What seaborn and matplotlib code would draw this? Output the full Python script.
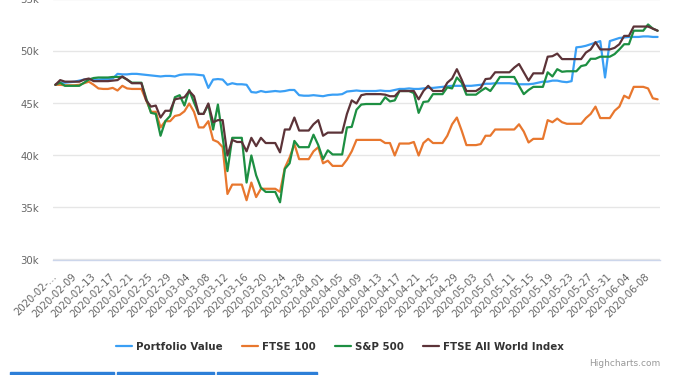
import matplotlib
matplotlib.use("Agg")
import matplotlib.pyplot as plt
import seaborn as sns
import pandas as pd
from matplotlib.lines import Line2D
from matplotlib.patches import Rectangle

# ---- data (values in thousands) ----
dates = pd.date_range("2020-02-05", "2020-06-10", freq="D").strftime("%Y-%m-%d").tolist()

portfolio = [
    46.8, 47.0, 47.0, 47.05, 47.1, 47.2, 47.3,
    47.35, 47.35, 47.3, 47.35, 47.35, 47.4, 47.85,
    47.8, 47.8, 47.85, 47.85, 47.8, 47.75, 47.7,
    47.65, 47.6, 47.65, 47.65, 47.6, 47.75, 47.8,
    47.8, 47.8, 47.75, 47.7, 46.5, 47.3, 47.35,
    47.3, 46.8, 46.95, 46.85, 46.85, 46.8, 46.1,
    46.05, 46.2, 46.1, 46.15, 46.2, 46.15, 46.2,
    46.3, 46.3, 45.8, 45.75, 45.75, 45.8, 45.75,
    45.7, 45.8, 45.85, 45.85, 45.9, 46.15, 46.2,
    46.25, 46.2, 46.2, 46.2, 46.2, 46.25, 46.2,
    46.2, 46.3, 46.4, 46.4, 46.45, 46.4, 46.4,
    46.45, 46.5, 46.5, 46.55, 46.6, 46.65, 46.7,
    46.7, 46.7, 46.7, 46.7, 46.75, 46.8, 46.9,
    46.9, 46.95, 46.95, 46.95, 46.95, 46.9, 46.85,
    46.85, 46.85, 46.9, 47.0, 47.1, 47.1, 47.2,
    47.2, 47.1, 47.05, 47.15, 50.4, 50.45, 50.55,
    50.7, 50.85, 51.0, 47.5, 51.0, 51.15, 51.3,
    51.35, 51.4, 51.4, 51.4, 51.45, 51.45, 51.4,
    51.4,
]

ftse100 = [
    46.8, 46.8, 46.75, 46.75, 46.75, 46.8, 46.95,
    47.1, 46.8, 46.45, 46.4, 46.4, 46.5, 46.25,
    46.7, 46.45, 46.4, 46.4, 46.4, 45.3, 44.2,
    44.2, 42.7, 43.3, 43.3, 43.8, 43.9, 44.25,
    45.0, 44.2, 42.7, 42.7, 43.3, 41.5, 41.3,
    40.8, 36.3, 37.2, 37.2, 37.2, 35.7, 37.4,
    36.0, 36.8, 36.8, 36.8, 36.8, 36.5, 38.8,
    39.8, 41.1, 39.65, 39.65, 39.65, 40.4, 40.8,
    39.25, 39.5, 39.0, 39.0, 39.0, 39.6, 40.4,
    41.5, 41.5, 41.5, 41.5, 41.5, 41.5, 41.2,
    41.2, 40.0, 41.15, 41.15, 41.15, 41.3, 40.0,
    41.2, 41.6, 41.2, 41.2, 41.2, 41.9, 43.0,
    43.65, 42.4, 41.0, 41.0, 41.0, 41.1, 41.9,
    41.9, 42.5, 42.5, 42.5, 42.5, 42.5, 43.0,
    42.3, 41.25, 41.6, 41.6, 41.6, 43.4, 43.2,
    43.55, 43.2, 43.05, 43.05, 43.05, 43.05, 43.6,
    44.0, 44.7, 43.6, 43.6, 43.6, 44.3, 44.7,
    45.75, 45.5, 46.6, 46.6, 46.6, 46.45, 45.5,
    45.4,
]

sp500 = [
    46.8, 47.0, 46.7, 46.7, 46.7, 46.7, 47.0,
    47.3, 47.45, 47.5, 47.5, 47.5, 47.55, 47.55,
    47.55, 47.3, 47.0, 47.0, 47.0, 45.5, 44.1,
    44.0, 41.9, 43.3, 43.8, 45.6, 45.8, 44.8,
    46.3, 45.1, 44.0, 44.0, 44.9, 42.5, 44.9,
    41.7, 38.5, 41.7, 41.7, 41.7, 37.4, 40.0,
    38.1, 36.9, 36.5, 36.5, 36.5, 35.5, 38.7,
    39.25, 41.4, 40.8, 40.8, 40.8, 42.0, 41.0,
    39.65, 40.5, 40.1, 40.1, 40.1, 42.7, 42.75,
    44.4, 44.9, 44.95, 44.95, 44.95, 44.95, 45.6,
    45.2, 45.3, 46.2, 46.2, 46.2, 46.0, 44.1,
    45.15, 45.2, 45.9, 45.9, 45.9, 46.55, 46.45,
    47.5, 47.0, 45.85, 45.85, 45.85, 46.2, 46.5,
    46.2, 46.85, 47.55, 47.55, 47.55, 47.55, 46.7,
    45.9, 46.3, 46.6, 46.6, 46.6, 48.0, 47.6,
    48.3, 48.05, 48.1, 48.1, 48.1, 48.6, 48.7,
    49.3, 49.3, 49.5, 49.5, 49.5, 49.75, 50.2,
    50.7, 50.7, 52.0, 52.0, 52.0, 52.6, 52.2,
    52.0,
]

world = [
    46.8, 47.25, 47.1, 47.1, 47.1, 47.1, 47.3,
    47.4, 47.15, 47.15, 47.15, 47.15, 47.2, 47.25,
    47.6, 47.3, 46.95, 46.95, 46.95, 45.3, 44.7,
    44.8, 43.65, 44.3, 44.3, 45.4, 45.5, 45.6,
    46.2, 45.7, 44.0, 44.0, 45.0, 43.2, 43.4,
    43.4, 40.0, 41.5, 41.3, 41.3, 40.4, 41.7,
    40.9, 41.7, 41.2, 41.2, 41.2, 40.3, 42.5,
    42.5, 43.65, 42.4, 42.4, 42.4, 43.0, 43.4,
    41.9, 42.2, 42.2, 42.2, 42.2, 44.0, 45.3,
    45.0, 45.8, 45.9, 45.9, 45.9, 45.9, 45.85,
    45.7, 45.7, 46.2, 46.2, 46.2, 46.2, 45.4,
    46.2, 46.7, 46.2, 46.2, 46.2, 47.0, 47.4,
    48.3, 47.3, 46.2, 46.2, 46.2, 46.5, 47.35,
    47.4, 48.0, 48.0, 48.0, 48.0, 48.45, 48.8,
    48.0, 47.2, 47.9, 47.9, 47.9, 49.5, 49.55,
    49.8, 49.27, 49.27, 49.27, 49.27, 49.27, 49.9,
    50.2, 50.9, 50.2, 50.2, 50.2, 50.35, 50.7,
    51.5, 51.5, 52.4, 52.4, 52.4, 52.4, 52.2,
    52.0,
]

series_names = ["Portfolio Value", "FTSE 100", "S&P 500", "FTSE All World Index"]
series_values = [portfolio, ftse100, sp500, world]
colors = ["#3a9ff5", "#e8772e", "#1d8f42", "#5c3338"]
yticks = [30000, 35000, 40000, 45000, 50000, 55000]
ytick_labels = ["30k", "35k", "40k", "45k", "50k", "55k"]
xtick_step = 4

# ---- long-form table ----
rows = []
for name, vals in zip(series_names, series_values):
    for i, v in enumerate(vals):
        rows.append({"idx": i, "date": dates[i], "value": v * 1000, "series": name})
df = pd.DataFrame(rows)

sns.set_style("white")
plt.rcParams["font.family"] = ["DejaVu Sans"]

W, H = 685, 375
fig = plt.figure(figsize=(W / 100, H / 100), dpi=100)
left, right, top, bottom = 53, 660, -0.5, 259.5
ax = fig.add_axes([left / W, 1 - bottom / H, (right - left) / W, (bottom - top) / H])

sns.lineplot(data=df, x="idx", y="value", hue="series", hue_order=series_names,
             palette=colors, linewidth=1.6, estimator=None, legend=False, ax=ax)

n = len(dates)
ax.set_xlim(-0.5, n - 0.5)
ax.set_ylim(30000, 55000)
ax.set_yticks(yticks)
ax.set_yticklabels(ytick_labels)
ax.set_xlabel("")
ax.set_ylabel("")

ticks = list(range(0, n, xtick_step))
labels = [dates[i] for i in ticks]
labels[0] = "2020-02-…"
ax.set_xticks(ticks)
ax.set_xticklabels(labels)
plt.setp(ax.get_xticklabels(), rotation=45, ha="right", va="center",
         rotation_mode="anchor")

for s in ["top", "left", "right"]:
    ax.spines[s].set_visible(False)
ax.spines["bottom"].set_color("#ccd6eb")
ax.spines["bottom"].set_linewidth(1)
ax.yaxis.grid(True, color="#e6e6e6", linewidth=1)
ax.xaxis.grid(False)
ax.set_axisbelow(True)
ax.tick_params(axis="y", length=0, pad=10, labelsize=7.3, labelcolor="#666666")
ax.tick_params(axis="x", length=0, pad=11, labelsize=7.2, labelcolor="#666666")

handles = [Line2D([0], [0], color=c, lw=1.6) for c in colors]
fig.legend(handles, series_names, loc="center", ncol=4,
           bbox_to_anchor=(340 / W, 1 - 346.5 / H), frameon=False,
           prop={"weight": "bold", "size": 7.4}, labelcolor="#333333",
           handlelength=1.55, handletextpad=0.4, columnspacing=1.85)

fig.text(660 / W, 1 - 363 / H, "Highcharts.com", ha="right", va="center",
         fontsize=6.5, color="#999999")

for x0, x1 in [(10, 114), (117, 214), (217, 317)]:
    fig.patches.append(Rectangle((x0 / W, 0), (x1 - x0) / W, 3.5 / H,
                                 transform=fig.transFigure, color="#2d7fd8"))

fig.savefig("out.png", dpi=100)
